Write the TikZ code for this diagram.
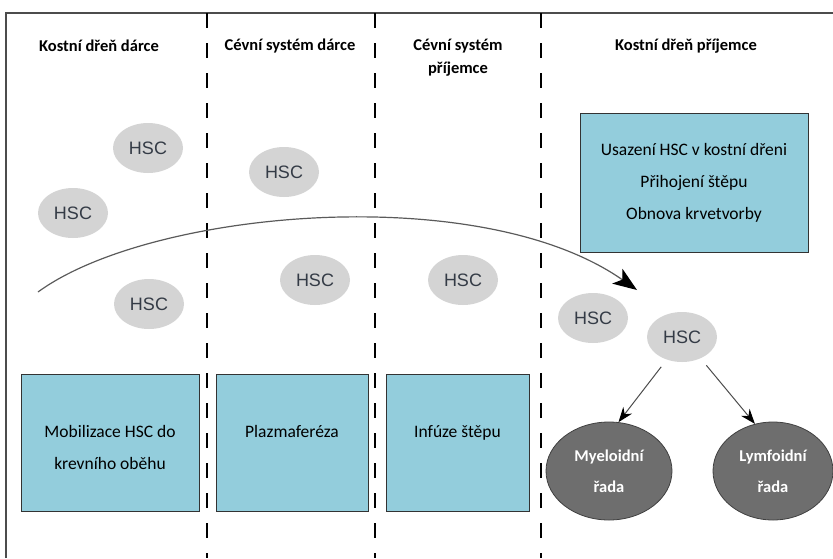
\documentclass[tikz,border=0pt]{standalone}
\usepackage{fontspec}
\setmainfont{Carlito}
\newfontfamily\hscfont{Liberation Sans}
\usetikzlibrary{arrows.meta,shapes.geometric}
\definecolor{cellblue}{HTML}{93CDDC}
\definecolor{cellgrey}{HTML}{D4D4D4}
\definecolor{linegrey}{HTML}{5A5A5A}
\definecolor{lineage}{HTML}{6E6E6E}
\definecolor{hsctext}{HTML}{343B46}
\tikzset{
  frame/.style={draw=black!70,line width=2pt},
  divider/.style={draw=black,line width=1.8pt,dash pattern=on 15pt off 15pt},
  zone/.style={font=\fontsize{16.5}{23}\selectfont\bfseries,align=center},
  hsc/.style={ellipse,fill=cellgrey,minimum width=70pt,minimum height=50pt,inner sep=0pt,
    font=\hscfont\fontsize{18}{18}\selectfont,text=hsctext},
  stepbox/.style={rectangle,draw=black!80,fill=cellblue,line width=.8pt,align=center,
    inner sep=0pt,minimum height=137pt,font=\fontsize{17.5}{32}\selectfont},
  oneline/.style={text height=12pt,text depth=23pt},
  lineagecell/.style={ellipse,draw=black!75,fill=lineage,line width=.8pt,text=white,align=center,
    inner sep=0pt,minimum height=98pt,font=\fontsize{16.5}{31}\selectfont\bfseries},
  route/.style={draw=linegrey,line width=1.2pt,-{Stealth[length=24pt,width=18pt,inset=6pt,color=black]}},
  split/.style={draw=black!70,line width=1pt,shorten <=9pt,-{Stealth[length=15pt,width=11pt,color=black]}}}
\begin{document}
\begin{tikzpicture}[x=1pt,y=-1pt]
\useasboundingbox (0,0) rectangle (833,558);
\draw[frame] (6,558)--(6,13)--(833,13);
\foreach \x in {207,375,541} \draw[divider] (\x,13)--(\x,558);
% zones
\node[zone] (zdonor) at (99,46) {Kostní dřeň dárce};
\node[zone] (zdonorblood) at (290,46) {Cévní systém dárce};
\node[zone] (zrecblood) at (458,57.5) {Cévní systém\\příjemce};
\node[zone] (zrec) at (686,46) {Kostní dřeň příjemce};
% cells
\node[hsc] (hscA) at (148,148) {HSC};
\node[hsc] (hscB) at (73,213) {HSC};
\node[hsc] (hscC) at (149,304) {HSC};
\node[hsc] (hscD) at (284,172) {HSC};
\node[hsc] (hscE) at (315,280) {HSC};
\node[hsc] (hscF) at (463,280) {HSC};
\node[hsc] (hscG) at (593,318) {HSC};
\node[hsc] (hscH) at (682,337) {HSC};
\coordinate (flowstart) at (38,292);\coordinate (flowend) at (637,290);
\draw[route] (flowstart) .. controls (150,210) and (480,180) .. (flowend);
% steps
\node[stepbox,minimum width=178pt,text height=57pt,text depth=4pt] (mobil) at (110,442.5) {Mobilizace HSC do\\krevního oběhu};
\node[stepbox,oneline,minimum width=152pt] (plasma) at (292,442.5) {Plazmaferéza};
\node[stepbox,oneline,minimum width=143pt] (infuze) at (457.5,442.5) {Infúze štěpu};
\node[stepbox,minimum width=228pt,minimum height=139pt] (engraft) at (694,182.5) {Usazení HSC v kostní dřeni\\Přihojení štěpu\\Obnova krvetvorby};
\node[lineagecell,minimum width=126pt] (myelo) at (609,471) {Myeloidní\\řada};
\node[lineagecell,minimum width=120pt] (lymfo) at (773,471) {Lymfoidní\\řada};
\draw[split] (hscH.236)--(myelo.79);
\draw[split] (hscH.311)--(lymfo.111);
\end{tikzpicture}
\end{document}
